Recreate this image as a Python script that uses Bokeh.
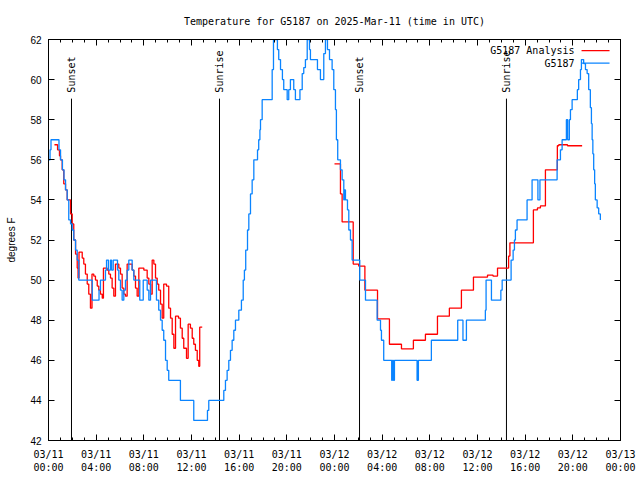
from math import pi
from bokeh.plotting import figure
from bokeh.models import FixedTicker, LinearAxis, Label, Range1d, Arrow
from bokeh.core.properties import value
from bokeh.embed import file_html
from bokeh.resources import INLINE

# Observed G5187 temperature (hours since 03/11 00:00 UTC, degrees F)
obs_hours = [0.00, 0.13, 0.21, 0.88, 1.01, 1.17, 1.30, 1.43, 1.57, 1.70,
             1.85, 1.99, 2.12, 2.27, 2.41, 2.54, 3.67, 4.24, 4.36, 4.78,
             4.87, 5.03, 5.20, 5.29, 5.43, 5.79, 5.90, 6.04, 6.18, 6.32,
             6.46, 6.60, 6.74, 7.02, 7.16, 7.66, 7.95, 8.28, 8.42, 8.56,
             9.06, 9.25, 9.40, 9.54, 9.67, 9.82, 9.96, 10.09, 11.07, 12.19,
             13.34, 13.45, 14.71, 14.85, 14.99, 15.13, 15.27, 15.41, 15.55, 15.69,
             15.97, 16.19, 16.34, 16.44, 16.55, 16.70, 16.81, 16.95, 17.09, 17.23,
             17.54, 17.64, 17.74, 17.79, 17.93, 18.77, 18.88, 19.21, 19.32, 19.47,
             19.63, 19.74, 20.03, 20.16, 20.30, 20.58, 20.72, 21.10, 21.29, 21.42,
             21.56, 21.71, 21.90, 21.98, 22.57, 22.82, 23.10, 23.24, 23.41, 23.58,
             23.80, 23.94, 24.08, 24.16, 24.27, 24.50, 24.64, 24.78, 24.84, 24.92,
             25.09, 25.20, 25.34, 25.48, 26.12, 26.60, 27.58, 27.86, 27.94, 28.13,
             28.80, 28.86, 28.95, 29.03, 30.93, 31.04, 32.13, 34.34, 34.78, 35.07,
             36.66, 36.72, 37.17, 37.96, 38.07, 38.82, 38.99, 39.10, 39.18, 39.32,
             40.16, 40.58, 41.07, 41.24, 42.68, 42.96, 43.10, 43.46, 43.57, 43.71,
             43.80, 43.94, 44.38, 44.49, 44.64, 44.72, 44.91, 45.06, 45.20, 45.33,
             45.47, 45.56, 45.62, 45.68, 45.75, 45.83, 45.89, 46.04, 46.17, 46.31]
obs_temp = [56, 56.5, 57, 56.5, 56, 55.5, 55, 54.5, 54, 53,
            52.8, 52.5, 52, 51.5, 51, 50, 49, 49.5, 50, 50.5,
            51, 50.5, 51, 50.5, 51, 50.5, 50, 49.5, 49, 49.5,
            50, 50.5, 51, 50.5, 50, 49, 50, 49.5, 49, 50,
            49, 48.5, 48, 47.5, 47, 46, 45.5, 45, 44, 43,
            43.5, 44, 44.5, 45, 45.5, 46, 46.5, 47, 47.5, 48,
            48.5, 49, 50, 50.5, 51.5, 52.5, 53.3, 54.3, 55, 56,
            56.5, 57, 57.5, 58, 59, 60.5, 62, 61.5, 61, 60.5,
            60, 59.5, 59, 59.5, 60, 59.5, 59, 59.5, 60.3, 60.6,
            61, 62, 61.5, 61, 60.5, 60, 61.3, 62, 61.5, 61,
            60.5, 59.5, 58.5, 57, 56, 55.5, 55, 54, 54.5, 54,
            53.5, 52.5, 52, 51, 50, 49, 48, 47.5, 47, 46,
            45, 46, 45, 46, 45, 46, 47, 48, 47, 48,
            48.5, 50, 49, 49.5, 50, 51, 51.5, 52, 52.5, 53,
            54, 55, 54, 55, 56, 56.5, 57, 58, 57, 58,
            58.5, 59, 59.5, 60, 60.5, 61, 60.8, 60.5, 60.3, 59.5,
            58.6, 57.8, 57, 56.3, 55.5, 54.8, 54, 53.6, 53.3, 53]

# Analysis, first run (03/11)
ana1_hours = [0.50, 0.76, 0.92, 1.01, 1.15, 1.28, 1.43, 1.57, 1.85, 1.99,
              2.12, 2.27, 2.41, 2.48, 2.56, 2.83, 2.96, 3.10, 3.25, 3.38,
              3.52, 3.65, 3.80, 3.94, 4.09, 4.22, 4.36, 4.51, 4.61, 4.92,
              5.06, 5.20, 5.34, 5.48, 5.62, 5.90, 6.04, 6.18, 6.32, 6.46,
              6.60, 6.88, 7.02, 7.16, 7.30, 7.44, 7.58, 8.00, 8.28, 8.42,
              8.56, 8.70, 8.84, 8.98, 9.12, 9.25, 9.40, 9.54, 9.67, 9.90,
              10.09, 10.24, 10.38, 10.52, 10.66, 10.91, 11.07, 11.22, 11.35, 11.58,
              11.72, 11.91, 12.06, 12.19, 12.33, 12.48, 12.61, 12.69, 12.90]
ana1_temp = [56.75, 56.5, 56.2, 56, 55.5, 54.8, 54.5, 54, 53.3, 52.8,
             52, 51.3, 50.6, 50.1, 51.4, 51.1, 50.8, 50.3, 49.8, 49.3,
             48.6, 50.3, 50.2, 50, 49.7, 49.5, 49.3, 49.1, 50.6, 50.5,
             50.3, 50.1, 49.6, 49.2, 50.8, 50.6, 50.3, 49.6, 49.3, 49.2,
             50.8, 50.8, 50.5, 50.2, 49.6, 49.2, 50.6, 50.5, 50.1, 49.8,
             49.3, 51, 50.8, 50.1, 49.8, 49.5, 48.8, 48.1, 49.8, 49.7,
             48.6, 48.1, 47.3, 46.6, 48.2, 48.1, 47.6, 47.1, 46.6, 46.1,
             47.8, 47.6, 47.1, 46.8, 46.5, 46, 45.7, 47.65, 47.65]

# Analysis, second run (03/12)
ana2_hours = [24.00, 24.50, 24.64, 25.57, 26.03, 26.55, 27.61, 28.61, 29.62, 30.62,
              31.63, 32.64, 33.64, 34.65, 35.66, 36.84, 37.30, 37.68, 38.61, 38.72,
              40.69, 41.03, 41.28, 41.70, 42.70, 42.82, 43.55, 44.78]
ana2_temp = [55.8, 54.3, 52.9, 50.8, 50.7, 49.5, 48.07, 46.8, 46.57, 47.0,
             47.3, 48.2, 48.6, 49.5, 50.15, 50.25, 50.2, 50.6, 51.2, 51.86,
             53.5, 53.6, 53.7, 55.5, 56.7, 56.75, 56.7, 56.7]

sun_hours = [1.93, 14.35, 26.10, 38.43]
sun_labels = ["Sunset", "Sunrise", "Sunset", "Sunrise"]

tick_hours = [0, 4, 8, 12, 16, 20, 24, 28, 32, 36, 40, 44, 48]
tick_labels = ["03/11\n00:00", "03/11\n04:00", "03/11\n08:00", "03/11\n12:00",
               "03/11\n16:00", "03/11\n20:00", "03/12\n00:00", "03/12\n04:00",
               "03/12\n08:00", "03/12\n12:00", "03/12\n16:00", "03/12\n20:00",
               "03/13\n00:00"]
minor_hours = list(range(0, 49))
y_ticks = [42, 44, 46, 48, 50, 52, 54, 56, 58, 60, 62]

RED = "#ff0000"
BLUE = "#0a84ff"
MONO = "DejaVu Sans Mono"
SANS = "Liberation Sans"
LW = 1.3

p = figure(width=640, height=480, x_range=Range1d(0, 48), y_range=Range1d(42, 62),
           output_backend="svg", toolbar_location=None,
           min_border_left=48, min_border_right=20, min_border_top=39, min_border_bottom=40,
           title="Temperature for G5187 on 2025-Mar-11 (time in UTC)")

p.title.text_font = MONO
p.title.text_font_size = "10px"
p.title.text_font_style = "normal"
p.title.align = "center"
p.title.vertical_align = "top"
p.title.text_color = "black"
p.title.standoff = 21

p.xgrid.visible = False
p.ygrid.visible = False
p.outline_line_color = "black"
p.outline_line_width = 1
p.background_fill_color = "white"
p.border_fill_color = "white"

xt = FixedTicker(ticks=tick_hours, minor_ticks=minor_hours)
yt = FixedTicker(ticks=y_ticks, minor_ticks=[])

xa = p.xaxis[0]
xa.ticker = xt
xa.major_label_overrides = dict(zip(tick_hours, tick_labels))
xa.major_label_text_font = MONO
xa.major_label_text_font_size = "10px"
xa.major_label_text_color = "black"
xa.major_label_standoff = 8
xa.major_tick_in = 6
xa.major_tick_out = 0
xa.minor_tick_in = 3
xa.minor_tick_out = 0
xa.axis_line_color = "black"
xa.major_tick_line_color = "black"
xa.minor_tick_line_color = "black"

ya = p.yaxis[0]
ya.ticker = yt
ya.major_label_text_font = SANS
ya.major_label_text_font_size = "10px"
ya.major_label_text_color = "black"
ya.major_label_standoff = 7
ya.major_tick_in = 6
ya.major_tick_out = 0
ya.minor_tick_line_color = None
ya.axis_label = "degrees F"
ya.axis_label_text_font = SANS
ya.axis_label_text_font_size = "10px"
ya.axis_label_text_font_style = "normal"
ya.axis_label_text_color = "black"
ya.axis_label_standoff = 10
ya.axis_line_color = "black"

top = LinearAxis(ticker=xt, major_label_text_font_size="0px", major_label_standoff=0,
                 major_tick_in=6, major_tick_out=0, minor_tick_in=3, minor_tick_out=0,
                 major_label_text_color=None)
p.add_layout(top, "above")
right = LinearAxis(ticker=yt, major_label_text_font_size="0px", major_label_standoff=0,
                   major_tick_in=6, major_tick_out=0, minor_tick_line_color=None,
                   major_label_text_color=None)
p.add_layout(right, "right")

# sunrise / sunset markers
p.segment(x0=sun_hours, y0=[42] * len(sun_hours), x1=sun_hours, y1=[59.05] * len(sun_hours),
          line_color="black", line_width=1)
p.text(x=sun_hours, y=[59.35] * len(sun_hours), text=sun_labels, angle=pi / 2,
       text_align="left", text_baseline="middle", text_font=value(MONO),
       text_font_size="10px", text_color="black")

# data
p.step(ana1_hours, ana1_temp, mode="after", line_color=RED, line_width=LW)
p.step(ana2_hours, ana2_temp, mode="after", line_color=RED, line_width=LW)
p.step(obs_hours, obs_temp, mode="after", line_color=BLUE, line_width=LW)

# legend (gnuplot style: text left of sample)
p.add_layout(Label(x=44.14, y=61.45, text="G5187 Analysis", text_align="right",
                   text_baseline="middle", text_font=MONO, text_font_size="10px",
                   text_color="black"))
p.add_layout(Arrow(end=None, x_start=44.73, y_start=61.45, x_end=47.08, y_end=61.45,
                   line_color=RED, line_width=LW))
p.add_layout(Label(x=44.14, y=60.82, text="G5187", text_align="right",
                   text_baseline="middle", text_font=MONO, text_font_size="10px",
                   text_color="black"))
p.add_layout(Arrow(end=None, x_start=44.73, y_start=60.82, x_end=47.08, y_end=60.82,
                   line_color=BLUE, line_width=LW))

open("out.html", "w").write(file_html(p, INLINE))
